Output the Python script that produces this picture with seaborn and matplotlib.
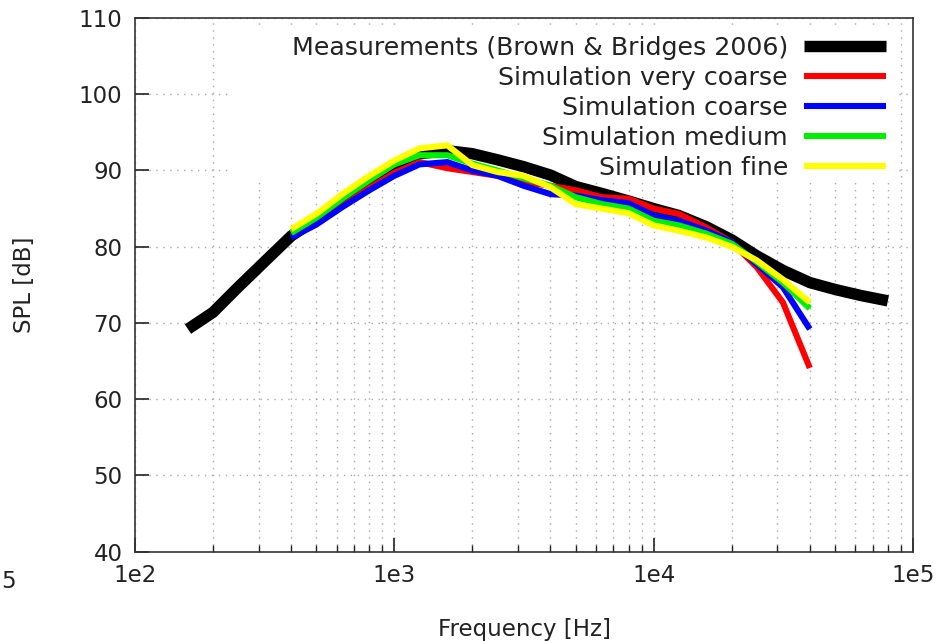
import numpy as np
import pandas as pd
import matplotlib
matplotlib.use("Agg")
import matplotlib.pyplot as plt
import matplotlib.ticker as mticker
from matplotlib.patches import Rectangle
import seaborn as sns

# ---------------- data ----------------
freq_meas = [160, 200, 250, 315, 400, 500, 630, 800, 1000, 1250, 1600, 2000,
             2500, 3150, 4000, 5000, 6300, 8000, 10000, 12500, 16000, 20000,
             25000, 31500, 40000, 50000, 63000, 80000]
spl_meas = [69.2, 71.4, 74.7, 78.0, 81.4, 83.6, 86.1, 88.4, 90.4, 92.2, 92.6, 92.2,
            91.4, 90.5, 89.4, 87.9, 87.0, 86.0, 85.0, 84.1, 82.6, 80.9,
            78.8, 76.9, 75.3, 74.4, 73.6, 72.9]

freq_sim = [400, 500, 630, 800, 1000, 1250, 1600, 2000, 2500, 3150, 4000,
            5000, 6300, 8000, 10000, 12500, 16000, 20000, 25000, 31500, 40000]
spl_very_coarse = [81.3, 83.0, 85.3, 87.7, 89.7, 91.1, 90.3, 89.8, 89.3, 88.5, 88.0,
                   87.4, 86.5, 86.3, 85.0, 84.3, 82.5, 80.6, 77.3, 72.7, 64.1]
spl_coarse = [81.2, 82.9, 85.2, 87.4, 89.3, 90.8, 91.1, 90.0, 89.3, 88.0, 86.9,
              86.7, 86.1, 85.7, 84.1, 83.4, 82.1, 80.6, 77.7, 74.7, 69.2]
spl_medium = [81.8, 83.8, 86.3, 88.7, 90.8, 92.0, 92.0, 90.9, 90.0, 89.0, 88.0,
              86.5, 85.6, 85.0, 83.4, 82.8, 81.7, 80.4, 78.0, 75.3, 71.9]
spl_fine = [82.3, 84.3, 86.9, 89.3, 91.3, 92.9, 93.3, 90.7, 89.8, 89.3, 87.8,
            85.6, 85.0, 84.4, 82.8, 82.1, 81.2, 80.0, 78.2, 75.7, 72.7]

labels = ["Measurements (Brown & Bridges 2006)", "Simulation very coarse",
          "Simulation coarse", "Simulation medium", "Simulation fine"]
colors = ["#000000", "#ff0000", "#0000ff", "#00ee00", "#ffff00"]
widths = [8.2, 4.4, 4.4, 4.4, 4.4]

xtick_vals = [1e2, 1e3, 1e4, 1e5]
xtick_labels = ["1e2", "1e3", "1e4", "1e5"]
ytick_vals = [40, 50, 60, 70, 80, 90, 100, 110]

# ---------------- plot ----------------
sns.set_theme(style="white")
plt.rcParams["font.family"] = ["DejaVu Sans"]
fs = 16.5
fs_leg = 18.2

fig = plt.figure(figsize=(9.39, 6.41), dpi=100)
ax = fig.add_axes([135 / 939, 1 - 551.7 / 641, (913 - 135) / 939, (551.7 - 18) / 641])

series = [(freq_meas, spl_meas)] + [(freq_sim, s) for s in
                                     (spl_very_coarse, spl_coarse, spl_medium, spl_fine)]
for (fx, fy), lab, col, lw in zip(series, labels, colors, widths):
    df = pd.DataFrame({"freq": fx, "spl": fy})
    sns.lineplot(data=df, x="freq", y="spl", ax=ax, color=col, lw=lw, label=lab,
                 sort=False, solid_joinstyle="miter", solid_capstyle="butt", zorder=3)

ax.set_xscale("log")
ax.set_xlim(1e2, 1e5)
ax.set_ylim(40, 110)
ax.set_xticks(xtick_vals)
ax.set_xticklabels(xtick_labels)
ax.xaxis.set_minor_locator(mticker.LogLocator(base=10, subs=np.arange(2, 10)))
ax.xaxis.set_minor_formatter(mticker.NullFormatter())
ax.set_yticks(ytick_vals)

ax.grid(True, which="major", axis="both", color="#a8a8a8", linestyle=(0, (1, 4)), lw=1.0)
ax.grid(True, which="minor", axis="x", color="#a8a8a8", linestyle=(0, (1, 4)), lw=1.0)
ax.set_axisbelow(True)

# opaque key box (covers the grid, beneath the curves)
ax.add_patch(Rectangle((0.1221, 0.6908), 0.9769 - 0.1221, 0.9775 - 0.6908,
                       transform=ax.transAxes, facecolor="white", edgecolor="none",
                       zorder=1))

for s in ax.spines.values():
    s.set_color("#333333")
    s.set_linewidth(1.2)
    s.set_zorder(4)

ax.tick_params(axis="both", which="major", direction="in", length=10, width=1.2,
               color="#222222", labelsize=fs, labelcolor="#222222", pad=9,
               bottom=True, left=True, top=False, right=False)
ax.tick_params(axis="x", which="minor", direction="in", length=5, width=1.0,
               color="#222222", bottom=True, top=False)

ax.set_xlabel("Frequency [Hz]", fontsize=fs, color="#222222", labelpad=22)
ax.set_ylabel("SPL [dB]", fontsize=fs, color="#222222", labelpad=31)

leg = ax.legend(loc="upper right", bbox_to_anchor=(0.9653, 0.9663), fontsize=fs_leg,
                markerfirst=False, frameon=False, handlelength=3.25,
                handletextpad=0.63, labelspacing=0.24, borderpad=0.0,
                borderaxespad=0.0)
leg.set_zorder(5)
for t in leg.get_texts():
    t.set_color("#222222")

fig.text(8.5 / 939, 1 - 581 / 641, "5", fontsize=fs, color="#222222",
         ha="center", va="center")

fig.savefig("out.png", dpi=100)
